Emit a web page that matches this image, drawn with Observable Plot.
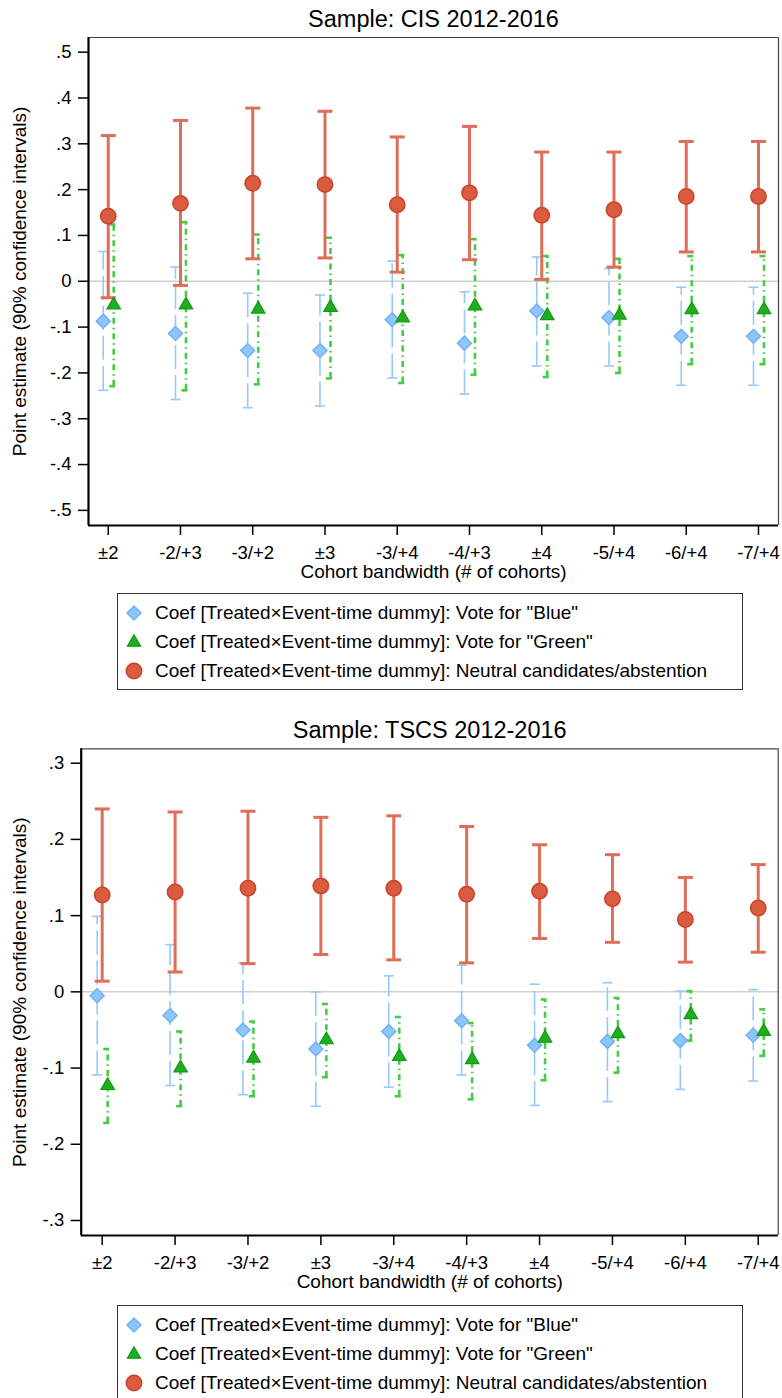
<!DOCTYPE html>
<html>
<head>
<meta charset="utf-8">
<script src="https://cdn.jsdelivr.net/npm/d3@7"></script>
<script src="https://cdn.jsdelivr.net/npm/@observablehq/plot@0.6"></script>
<style>
  html, body { margin: 0; padding: 0; background: #fff; }
  body { width: 782px; height: 1398px; overflow: hidden; position: relative;
         font-family: "Liberation Sans", Arial, sans-serif; color: #000; }
  .chart { position: absolute; left: 0; }
  .legend { position: absolute; left: 117px; width: 626px; height: 97px; box-sizing: border-box;
            border: 1.3px solid #333; background: #fff; }
  .row { position: absolute; left: 0; height: 22px; line-height: 22px; font-size: 19px; white-space: nowrap; }
  .row svg { position: absolute; left: 5px; top: 0; }
  .row span { position: absolute; left: 37px; top: 0; }
</style>
</head>
<body>
<div id="c1" class="chart" style="top:0px"></div>
<div id="c2" class="chart" style="top:700px"></div>
<script>
// ---------- data ----------
const cohorts = ["±2","-2/+3","-3/+2","±3","-3/+4","-4/+3","±4","-5/+4","-6/+4","-7/+4"];

const seriesLabels = [
  'Coef [Treated×Event-time dummy]: Vote for "Blue"',
  'Coef [Treated×Event-time dummy]: Vote for "Green"',
  'Coef [Treated×Event-time dummy]: Neutral candidates/abstention'
];

// Sample: CIS 2012-2016
const cisBlue    = [-0.087,-0.114,-0.151,-0.151,-0.084,-0.135,-0.065,-0.079,-0.120,-0.120];
const cisBlueLo  = [-0.238,-0.258,-0.276,-0.272,-0.211,-0.246,-0.185,-0.185,-0.227,-0.227];
const cisBlueHi  = [ 0.065, 0.031,-0.026,-0.030, 0.044,-0.023, 0.053, 0.028,-0.013,-0.013];
const cisGreen   = [-0.052,-0.052,-0.061,-0.057,-0.080,-0.054,-0.075,-0.074,-0.062,-0.062];
const cisGreenLo = [-0.229,-0.238,-0.225,-0.212,-0.222,-0.204,-0.209,-0.200,-0.181,-0.181];
const cisGreenHi = [ 0.124, 0.129, 0.102, 0.095, 0.057, 0.092, 0.055, 0.049, 0.055, 0.055];
const cisRed     = [ 0.142, 0.170, 0.214, 0.211, 0.167, 0.193, 0.144, 0.156, 0.185, 0.185];
const cisRedLo   = [-0.036,-0.009, 0.049, 0.051, 0.020, 0.047, 0.004, 0.031, 0.064, 0.064];
const cisRedHi   = [ 0.318, 0.351, 0.378, 0.371, 0.315, 0.338, 0.282, 0.282, 0.305, 0.305];
const cisTicks   = [-0.5,-0.4,-0.3,-0.2,-0.1,0,0.1,0.2,0.3,0.4,0.5];

// Sample: TSCS 2012-2016
const tsBlue    = [-0.005,-0.031,-0.050,-0.075,-0.052,-0.038,-0.070,-0.065,-0.064,-0.057];
const tsBlueLo  = [-0.109,-0.123,-0.135,-0.150,-0.125,-0.109,-0.149,-0.144,-0.128,-0.117];
const tsBlueHi  = [ 0.099, 0.062, 0.038, 0.000, 0.021, 0.035, 0.010, 0.012, 0.001, 0.003];
const tsGreen   = [-0.123,-0.100,-0.087,-0.063,-0.085,-0.089,-0.061,-0.055,-0.030,-0.052];
const tsGreenLo = [-0.172,-0.150,-0.137,-0.112,-0.137,-0.141,-0.116,-0.106,-0.064,-0.084];
const tsGreenHi = [-0.075,-0.052,-0.039,-0.016,-0.033,-0.041,-0.010,-0.008, 0.001,-0.023];
const tsRed     = [ 0.127, 0.131, 0.136, 0.139, 0.136, 0.128, 0.132, 0.122, 0.095, 0.110];
const tsRedLo   = [ 0.014, 0.026, 0.037, 0.049, 0.042, 0.038, 0.070, 0.065, 0.039, 0.052];
const tsRedHi   = [ 0.240, 0.236, 0.237, 0.229, 0.231, 0.217, 0.193, 0.180, 0.150, 0.167];
const tsTicks   = [-0.3,-0.2,-0.1,0,0.1,0.2,0.3];

// ---------- styles ----------
const C = {
  blueFill: "#8ec5fb", blueStroke: "#6fb2f6", blueLine: "#95c9fb",
  greenFill: "#1fae1f", greenStroke: "#129a12", greenLine: "#45cc45",
  redFill: "#da5b40", redStroke: "#c6452c", redLine: "#df6d58"
};
const FONT = "'Liberation Sans', Arial, sans-serif";

// horizontal cap symbol: half-width = r (px)
const capSymbol = { draw(ctx, size) { const w = Math.sqrt(size / Math.PI); ctx.moveTo(-w, 0); ctx.lineTo(w, 0); } };

const fmtY = d => d === 0 ? "0" : (d < 0 ? "-" : "") + "." + Math.round(Math.abs(d) * 10);

function makeChart(cfg) {
  const rows = d3.range(cohorts.length).map(i => ({
    i,
    b: cfg.blue[i], bLo: cfg.blueLo[i], bHi: cfg.blueHi[i],
    g: cfg.green[i], gLo: cfg.greenLo[i], gHi: cfg.greenHi[i],
    r: cfg.red[i], rLo: cfg.redLo[i], rHi: cfg.redHi[i]
  }));
  const [x0, x1] = cfg.xDomain, [y0, y1] = cfg.yDomain;
  const bdx = -5, gdx = 5.5;
  return Plot.plot({
    width: 782,
    height: cfg.height,
    marginLeft: cfg.marginLeft, marginRight: cfg.marginRight,
    marginTop: cfg.marginTop, marginBottom: cfg.marginBottom,
    style: { fontFamily: FONT, fontSize: "18.5px", color: "#000", background: "#fff", overflow: "visible" },
    x: { type: "linear", domain: cfg.xDomain, label: null },
    y: { domain: cfg.yDomain, label: null },
    marks: [
      Plot.ruleY([0], { stroke: "#cfcfcf", strokeWidth: 1.5 }),
      // frame
      Plot.ruleY([y1], { stroke: "#444", strokeWidth: 1.2 }),
      Plot.ruleX([x1], { stroke: "#444", strokeWidth: 1.2 }),
      // blue CI
      Plot.ruleX(rows, { x: "i", y1: "bLo", y2: "bHi", dx: bdx, stroke: C.blueLine, strokeWidth: 1.6, strokeDasharray: "24,6" }),
      Plot.dot(rows, { x: "i", y: "bLo", dx: bdx, symbol: capSymbol, r: 5, fill: "none", stroke: C.blueLine, strokeWidth: 1.6 }),
      Plot.dot(rows, { x: "i", y: "bHi", dx: bdx, symbol: capSymbol, r: 5, fill: "none", stroke: C.blueLine, strokeWidth: 1.6 }),
      // green CI
      Plot.ruleX(rows, { x: "i", y1: "gLo", y2: "gHi", dx: gdx, stroke: C.greenLine, strokeWidth: 2.6, strokeDasharray: "6,4,1.5,4" }),
      Plot.dot(rows, { x: "i", y: "gLo", dx: gdx - 1.5, symbol: capSymbol, r: 3, fill: "none", stroke: C.greenLine, strokeWidth: 2.6 }),
      Plot.dot(rows, { x: "i", y: "gHi", dx: gdx - 1.5, symbol: capSymbol, r: 3, fill: "none", stroke: C.greenLine, strokeWidth: 2.6 }),
      // red CI
      Plot.ruleX(rows, { x: "i", y1: "rLo", y2: "rHi", stroke: C.redLine, strokeWidth: 3 }),
      Plot.dot(rows, { x: "i", y: "rLo", symbol: capSymbol, r: 7.5, fill: "none", stroke: C.redLine, strokeWidth: 3 }),
      Plot.dot(rows, { x: "i", y: "rHi", symbol: capSymbol, r: 7.5, fill: "none", stroke: C.redLine, strokeWidth: 3 }),
      // points
      Plot.dot(rows, { x: "i", y: "b", dx: bdx, symbol: "diamond2", r: 6.3, fill: C.blueFill, stroke: C.blueStroke, strokeWidth: 1.5 }),
      Plot.dot(rows, { x: "i", y: "g", dx: gdx, symbol: "triangle", r: 5, fill: C.greenFill, stroke: C.greenStroke, strokeWidth: 1.2 }),
      Plot.dot(rows, { x: "i", y: "r", r: 7.7, fill: C.redFill, stroke: C.redStroke, strokeWidth: 1.5 }),
      // axes
      Plot.axisY(cfg.ticks, { tickSize: 10, tickPadding: 7, tickFormat: fmtY, stroke: "#000", strokeWidth: 1.5, fill: "#000" }),
      Plot.axisX(d3.range(cohorts.length), { tickSize: 10, tickPadding: 10, tickFormat: i => cohorts[i], stroke: "#000", strokeWidth: 1.5, fill: "#000" }),
      Plot.ruleX([x0], { stroke: "#000", strokeWidth: 2.2 }),
      Plot.ruleY([y0], { stroke: "#000", strokeWidth: 2.2 }),
      // titles
      Plot.text([cfg.title], { text: d => d, frameAnchor: "top", lineAnchor: "middle", textAnchor: "middle", dy: -18.4, fontSize: 23.5, fill: "#000" }),
      Plot.text(["Cohort bandwidth (# of cohorts)"], { text: d => d, frameAnchor: "bottom", lineAnchor: "middle", textAnchor: "middle", dy: 46, fontSize: 19, fill: "#000" }),
      Plot.text(["Point estimate (90% confidence intervals)"], { text: d => d, frameAnchor: "left", lineAnchor: "middle", textAnchor: "middle", rotate: -90, dx: -(cfg.marginLeft - 19), fontSize: 19, fill: "#000" })
    ]
  });
}

document.getElementById("c1").appendChild(makeChart({
  title: "Sample: CIS 2012-2016",
  blue: cisBlue, blueLo: cisBlueLo, blueHi: cisBlueHi,
  green: cisGreen, greenLo: cisGreenLo, greenHi: cisGreenHi,
  red: cisRed, redLo: cisRedLo, redHi: cisRedHi,
  ticks: cisTicks,
  xDomain: [-0.273, 9.277], yDomain: [-0.533, 0.532],
  height: 590, marginLeft: 88, marginRight: 4, marginTop: 37, marginBottom: 65
}));

document.getElementById("c2").appendChild(makeChart({
  title: "Sample: TSCS 2012-2016",
  blue: tsBlue, blueLo: tsBlueLo, blueHi: tsBlueHi,
  green: tsGreen, greenLo: tsGreenLo, greenHi: tsGreenHi,
  red: tsRed, redLo: tsRedLo, redHi: tsRedHi,
  ticks: tsTicks,
  xDomain: [-0.288, 9.274], yDomain: [-0.3197, 0.3189],
  height: 600, marginLeft: 80.7, marginRight: 4.3, marginTop: 48.3, marginBottom: 65
}));

// ---------- legends ----------
const markerSvgs = [
  `<svg width="22" height="22" viewBox="-11 -11 22 22"><path d="M0,-7L7,0L0,7L-7,0Z" fill="${C.blueFill}" stroke="${C.blueStroke}" stroke-width="1.5"/></svg>`,
  `<svg width="22" height="22" viewBox="-11 -11 22 22"><path d="M0,-7.2L6.6,4.2L-6.6,4.2Z" fill="${C.greenFill}" stroke="${C.greenStroke}" stroke-width="1.2"/></svg>`,
  `<svg width="22" height="22" viewBox="-11 -11 22 22"><circle r="7.7" fill="${C.redFill}" stroke="${C.redStroke}" stroke-width="1.5"/></svg>`
];
const rowCenters = [20, 49, 78];
function addLegend(top) {
  const box = document.createElement("div");
  box.className = "legend";
  box.style.top = top + "px";
  seriesLabels.forEach((lab, k) => {
    const row = document.createElement("div");
    row.className = "row";
    row.style.top = (rowCenters[k] - 11 - 1) + "px";
    row.innerHTML = markerSvgs[k] + `<span></span>`;
    row.querySelector("span").textContent = lab;
    box.appendChild(row);
  });
  document.body.appendChild(box);
}
addLegend(593);
addLegend(1305);
</script>
</body>
</html>
